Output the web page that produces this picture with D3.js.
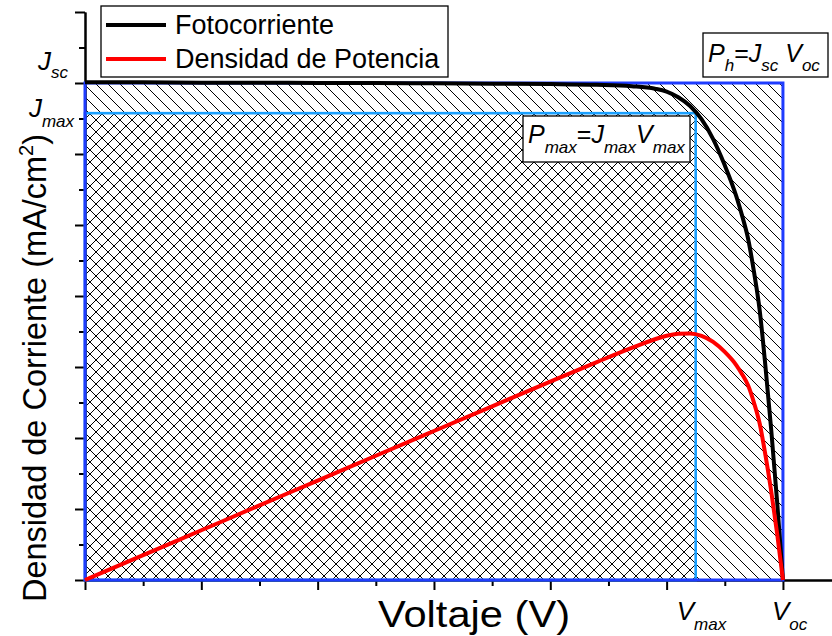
<!DOCTYPE html>
<html>
<head>
<meta charset="utf-8">
<script src="https://cdn.jsdelivr.net/npm/d3@7"></script>
<style>
  html, body { margin: 0; padding: 0; background: #fff; }
  svg { display: block; font-family: "Liberation Sans", Arial, sans-serif; }
</style>
</head>
<body>
<svg id="chart" width="832" height="636"></svg>
<script>
// Voltage (V) sampled along the J–V curve
const voltage = [0, 0.05, 0.10, 0.15, 0.20, 0.25, 0.30, 0.35, 0.40, 0.44, 0.47, 0.49, 0.50,
  0.51, 0.52, 0.53, 0.54, 0.55, 0.56, 0.565, 0.57, 0.575, 0.58, 0.585, 0.59, 0.595, 0.60];
// Photocurrent density (mA/cm²)
const photocurrent = [14.02, 14.02, 14.01, 14.01, 14.00, 14.00, 13.99, 13.98, 13.97, 13.95, 13.91, 13.84, 13.76,
  13.60, 13.36, 12.98, 12.42, 11.68, 10.80, 10.25, 9.62, 8.70, 7.60, 6.00, 4.20, 2.20, 0.00];
// Power density (mW/cm²)
const powerDensity = [0, 0.701, 1.401, 2.102, 2.800, 3.500, 4.197, 4.893, 5.588, 6.138, 6.538, 6.782, 6.880,
  6.936, 6.947, 6.879, 6.707, 6.424, 6.048, 5.791, 5.483, 5.003, 4.408, 3.510, 2.478, 1.309, 0];

// Characteristic points
const Jsc = 14.0, Jmax = 13.15, Voc = 0.60, Vmax = 0.525;

// Tick positions (unlabelled)
const yMajorTicks = [0, 2, 4, 6, 8, 10, 12, 14, 16];
const yMinorTicks = [1, 3, 5, 7, 9, 11, 13, 15];
const xMajorTicks = [0, 0.1, 0.2, 0.3, 0.4, 0.5, 0.6];
const xMinorTicks = [0.05, 0.15, 0.25, 0.35, 0.45, 0.55];

const legendItems = [
  { label: "Fotocorriente", color: "#000000" },
  { label: "Densidad de Potencia", color: "#ff0000" }
];

const svg = d3.select("#chart");
const x = d3.scaleLinear().domain([0, 0.642]).range([85, 831.8]);
const y = d3.scaleLinear().domain([0, 16]).range([580, 12]);

const blue = "#1f3cff", lightBlue = "#1aa0ff";

// Hatch patterns
const defs = svg.append("defs");
const P = 12;
defs.append("pattern").attr("id", "hatchBack").attr("patternUnits", "userSpaceOnUse")
  .attr("width", P).attr("height", P)
  .append("path").attr("d", `M0,0L${P},${P}M${-P/4},${3*P/4}L${P/4},${5*P/4}M${3*P/4},${-P/4}L${5*P/4},${P/4}`)
  .attr("stroke", "#000").attr("stroke-width", 1).attr("fill", "none");
defs.append("pattern").attr("id", "hatchFwd").attr("patternUnits", "userSpaceOnUse")
  .attr("width", P).attr("height", P)
  .append("path").attr("d", `M0,${P}L${P},0M${-P/4},${P/4}L${P/4},${-P/4}M${3*P/4},${5*P/4}L${5*P/4},${3*P/4}`)
  .attr("stroke", "#000").attr("stroke-width", 1).attr("fill", "none");

// Ideal power rectangle (Jsc·Voc) and maximum power rectangle (Jmax·Vmax)
svg.append("rect")
  .attr("x", x(0)).attr("y", y(Jsc)).attr("width", x(Voc) - x(0)).attr("height", y(0) - y(Jsc))
  .attr("fill", "url(#hatchBack)");
svg.append("rect")
  .attr("x", x(0)).attr("y", y(Jmax)).attr("width", x(Vmax) - x(0)).attr("height", y(0) - y(Jmax))
  .attr("fill", "url(#hatchFwd)");

// Axes
function styleAxis(g) {
  g.selectAll("path.domain").attr("stroke", "#000").attr("stroke-width", 2);
  g.selectAll(".tick line").attr("stroke", "#000").attr("stroke-width", 2);
  g.selectAll(".tick text").remove();
}
svg.append("g").attr("transform", `translate(${x(0)},0)`)
  .call(d3.axisLeft(y).tickValues(yMajorTicks).tickSize(10).tickSizeOuter(0).tickFormat(""))
  .call(styleAxis);
svg.append("g").attr("transform", `translate(${x(0)},0)`)
  .call(d3.axisLeft(y).tickValues(yMinorTicks).tickSize(6).tickSizeOuter(0).tickFormat(""))
  .call(styleAxis);
svg.append("g").attr("transform", `translate(0,${y(0)})`)
  .call(d3.axisBottom(x).tickValues(xMajorTicks).tickSize(10).tickSizeOuter(0).tickFormat(""))
  .call(styleAxis);
svg.append("g").attr("transform", `translate(0,${y(0)})`)
  .call(d3.axisBottom(x).tickValues(xMinorTicks).tickSize(6).tickSizeOuter(0).tickFormat(""))
  .call(styleAxis);

// Rectangle outlines
svg.append("rect")
  .attr("x", x(0)).attr("y", y(Jmax)).attr("width", x(Vmax) - x(0)).attr("height", y(0) - y(Jmax))
  .attr("fill", "none").attr("stroke", lightBlue).attr("stroke-width", 2.6);
svg.append("rect")
  .attr("x", x(0)).attr("y", y(Jsc)).attr("width", x(Voc) - x(0)).attr("height", y(0) - y(Jsc))
  .attr("fill", "none").attr("stroke", blue).attr("stroke-width", 3);

// Label helper: italic main letter with italic subscript
function subLabel(g, parts, size, subSize, shift) {
  const t = g.append("text").attr("font-size", size).attr("fill", "#000");
  parts.forEach(p => {
    const ts = t.append("tspan").text(p.t);
    if (p.italic !== false) ts.attr("font-style", "italic");
    if (p.sub) ts.attr("font-size", subSize).attr("dy", shift);
    if (p.up) ts.attr("dy", -shift);
  });
  return t;
}

// P_max box
svg.append("rect").attr("x", 523).attr("y", 116).attr("width", 167).attr("height", 46)
  .attr("fill", "#fff").attr("stroke", "#000").attr("stroke-width", 1.3);
subLabel(svg, [
  { t: "P" }, { t: "max", sub: true }, { t: "=", italic: false, up: true },
  { t: "J" }, { t: "max", sub: true }, { t: "V", up: true }, { t: "max", sub: true }
], 25, 17, 10).attr("x", 528).attr("y", 143);

// P_h box
svg.append("rect").attr("x", 703).attr("y", 33).attr("width", 125).attr("height", 44)
  .attr("fill", "#fff").attr("stroke", "#000").attr("stroke-width", 1.3);
subLabel(svg, [
  { t: "P" }, { t: "h", sub: true }, { t: "=", italic: false, up: true },
  { t: "J" }, { t: "sc", sub: true }, { t: " V", up: true }, { t: "oc", sub: true }
], 25, 17, 9).attr("x", 708).attr("y", 62);

// Curves
const line = d3.line().x(d => x(d[0])).y(d => y(d[1])).curve(d3.curveMonotoneX);
svg.append("path").datum(d3.zip(voltage, photocurrent))
  .attr("d", line).attr("fill", "none").attr("stroke", "#000").attr("stroke-width", 4);
svg.append("path").datum(d3.zip(voltage, powerDensity))
  .attr("d", line).attr("fill", "none").attr("stroke", "#ff0000").attr("stroke-width", 4);

// Axis annotations
subLabel(svg, [{ t: "J" }, { t: "sc", sub: true }], 26, 17, 8)
  .attr("x", 68).attr("y", y(Jsc) - 13).attr("text-anchor", "end");
subLabel(svg, [{ t: "J" }, { t: "max", sub: true }], 26, 17, 10)
  .attr("x", 74).attr("y", y(Jmax) + 4).attr("text-anchor", "end");
subLabel(svg, [{ t: "V" }, { t: "max", sub: true }], 26, 17, 10)
  .attr("x", x(Vmax) - 19).attr("y", 620);
subLabel(svg, [{ t: "V" }, { t: "oc", sub: true }], 26, 17, 10)
  .attr("x", x(Voc) - 11).attr("y", 620);

// Axis titles
svg.append("text").attr("x", 378).attr("y", 627)
  .attr("font-size", 36).attr("textLength", 192).attr("lengthAdjust", "spacingAndGlyphs")
  .text("Voltaje (V)");
const yt = svg.append("text").attr("transform", "translate(46,368) rotate(-90)")
  .attr("text-anchor", "middle").attr("font-size", 32.5);
yt.append("tspan").text("Densidad de Corriente (mA/cm");
yt.append("tspan").attr("font-size", 20).attr("dy", -13).text("2");
yt.append("tspan").attr("dy", 13).text(")");

// Legend
const lg = svg.append("g");
lg.append("rect").attr("x", 101).attr("y", 6).attr("width", 347).attr("height", 71)
  .attr("fill", "#fff").attr("stroke", "#000").attr("stroke-width", 1.3);
legendItems.forEach((d, i) => {
  const cy = 25 + i * 34;
  lg.append("line").attr("x1", 106).attr("x2", 166).attr("y1", cy).attr("y2", cy)
    .attr("stroke", d.color).attr("stroke-width", 4);
  lg.append("text").attr("x", 175).attr("y", cy + 9).attr("font-size", 27).text(d.label);
});
</script>
</body>
</html>
